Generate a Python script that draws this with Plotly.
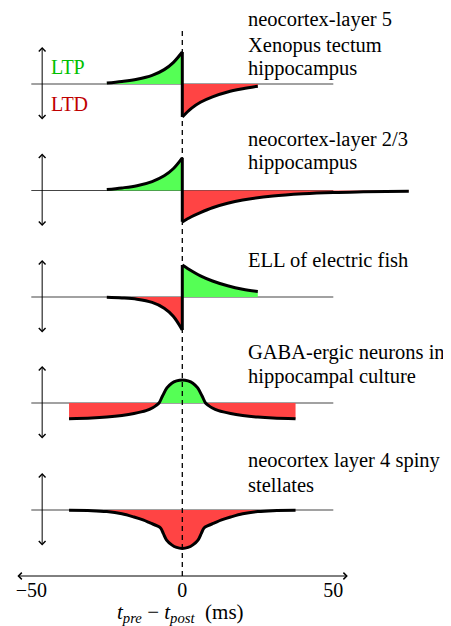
import plotly.graph_objects as go

# ---------------- data (weight change, normalised units) ----------------
# Panel 1: neocortex-layer 5 / Xenopus tectum / hippocampus
p1_pre_t = [-25, -20, -15, -10, -6, -3, 0]
p1_pre_w = [0.03, 0.08, 0.15, 0.27, 0.45, 0.67, 1.0]
p1_post_t = [0, 3, 6, 10, 15, 20, 25]
p1_post_w = [-1.03, -0.76, -0.57, -0.40, -0.25, -0.15, -0.07]

# Panel 2: neocortex-layer 2/3 / hippocampus
p2_pre_t = [-25, -20, -15, -10, -6, -3, 0]
p2_pre_w = [0.03, 0.08, 0.15, 0.28, 0.46, 0.68, 1.02]
p2_post_t = [0, 3, 6, 10, 15, 20, 30, 40, 50, 60, 75]
p2_post_w = [-0.98, -0.82, -0.69, -0.54, -0.40, -0.30, -0.17, -0.10, -0.06, -0.04, -0.02]

# Panel 3: ELL of electric fish
p3_pre_t = [-25, -20, -15, -10, -6, -3, 0]
p3_pre_w = [-0.01, -0.03, -0.07, -0.17, -0.35, -0.60, -1.03]
p3_post_t = [0, 3, 6, 10, 15, 20, 25]
p3_post_w = [1.0, 0.82, 0.66, 0.50, 0.35, 0.24, 0.17]

# Panel 4: GABA-ergic neurons in hippocampal culture
p4_t = [-37.5, -30, -25, -20, -16, -12, -9.8, -8.7, -7.7, -6.6, -5.1, -3.5, -1.9, 0,
        1.9, 3.5, 5.1, 6.6, 7.7, 8.7, 9.8, 12, 16, 20, 25, 30, 37.5]
p4_w = [-0.49, -0.47, -0.44, -0.39, -0.33, -0.24, -0.15, -0.08, 0.0, 0.21, 0.47, 0.62, 0.69, 0.72,
        0.69, 0.62, 0.47, 0.21, 0.0, -0.08, -0.15, -0.24, -0.33, -0.39, -0.44, -0.47, -0.49]

# Panel 5: neocortex layer 4 spiny stellates
p5_t = [-37.5, -30, -25, -20, -16, -13, -10.5, -8.5, -7.2, -6.3, -5.2, -3.5, -1.9, 0,
        1.9, 3.5, 5.2, 6.3, 7.2, 8.5, 10.5, 13, 16, 20, 25, 30, 37.5]
p5_w = [-0.01, -0.02, -0.05, -0.12, -0.22, -0.31, -0.41, -0.49, -0.56, -0.73, -0.94, -1.09, -1.17, -1.20,
        -1.17, -1.09, -0.94, -0.73, -0.56, -0.49, -0.41, -0.31, -0.22, -0.12, -0.05, -0.02, -0.01]

panel_labels = [
    ["neocortex-layer 5", "Xenopus tectum", "hippocampus"],
    ["neocortex-layer 2/3", "hippocampus"],
    ["ELL of electric fish"],
    ["GABA-ergic neurons in", "hippocampal culture"],
    ["neocortex layer 4 spiny", "stellates"],
]
tick_vals = [-50, 0, 50]

# ---------------- layout geometry ----------------
WIN_W, WIN_H = 451, 626
OFF = 8                      # default page margin around the plot div
W, H = WIN_W - OFF, WIN_H - OFF
UNIT = 32.0                  # px per weight unit
HALF = 50.0                  # px half-height of each panel
baselines_px = [84, 190.5, 297, 403, 510]
label_baselines_px = [[27, 52, 76], [146.7, 170], [266.7], [359.3, 383.3], [467.7, 491.7]]
PX_PER_MS = 3.02
ZERO_PX = 182.3
x_range = [(OFF - ZERO_PX) / PX_PER_MS, (WIN_W - ZERO_PX) / PX_PER_MS]

GREEN = "#55FF55"
RED = "#FF4444"
FONT = "Liberation Serif, Times New Roman, serif"
LABEL_SIZE = 20.5


def py(p):
    return 1 - (p - OFF) / H


def px(p):
    return (p - OFF) / W


panels = [
    [(p1_pre_t, p1_pre_w), (p1_post_t, p1_post_w)],
    [(p2_pre_t, p2_pre_w), (p2_post_t, p2_post_w)],
    [(p3_pre_t, p3_pre_w), (p3_post_t, p3_post_w)],
    [(p4_t, p4_w)],
    [(p5_t, p5_w)],
]


def sign_segments(t, w):
    segs = []
    ct, cw = [t[0]], [w[0]]
    for i in range(1, len(t)):
        ct.append(t[i])
        cw.append(w[i])
        if w[i] == 0 and i < len(t) - 1:
            segs.append((ct, cw))
            ct, cw = [t[i]], [w[i]]
    segs.append((ct, cw))
    return segs


fig = go.Figure()
layout = dict(
    width=W, height=H,
    margin=dict(l=0, r=0, t=0, b=0, pad=0),
    template="none",
    paper_bgcolor="white", plot_bgcolor="rgba(0,0,0,0)",
    showlegend=False,
    font=dict(family=FONT, size=20, color="black"),
    xaxis=dict(domain=[0, 1], range=x_range, anchor="free", position=py(576),
               showgrid=False, zeroline=False, showline=False, ticks="",
               tickvals=tick_vals, tickfont=dict(family=FONT, size=20, color="black"),
               automargin=False, fixedrange=True),
)
shapes = []
annotations = []

for i, pieces in enumerate(panels):
    yname = "y" if i == 0 else f"y{i + 1}"
    lname = "yaxis" if i == 0 else f"yaxis{i + 1}"
    b = baselines_px[i]
    layout[lname] = dict(domain=[py(b + HALF), py(b - HALF)],
                         range=[-HALF / UNIT, HALF / UNIT],
                         anchor="x", visible=False, fixedrange=True)
    # baseline
    shapes.append(dict(type="line", xref="x", yref=yname, x0=-50, x1=50, y0=0, y1=0,
                       line=dict(color="#444444", width=1.2), layer="below"))
    # fills
    for (t, w) in pieces:
        for st, sw in sign_segments(t, w):
            col = GREEN if sum(sw) > 0 else RED
            fig.add_trace(go.Scatter(x=st, y=sw, xaxis="x", yaxis=yname, mode="lines",
                                     line=dict(width=0, shape="spline"),
                                     fill="tozeroy", fillcolor=col, hoverinfo="skip"))
    # curves
    for (t, w) in pieces:
        fig.add_trace(go.Scatter(x=t, y=w, xaxis="x", yaxis=yname, mode="lines",
                                 line=dict(color="black", width=3, shape="spline"),
                                 hoverinfo="skip"))
    if len(pieces) == 2:
        fig.add_trace(go.Scatter(x=[pieces[0][0][-1], pieces[1][0][0]],
                                 y=[pieces[0][1][-1], pieces[1][1][0]],
                                 xaxis="x", yaxis=yname, mode="lines",
                                 line=dict(color="black", width=3), hoverinfo="skip"))
    # double arrow
    annotations.append(dict(xref="x", yref=yname, x=-46.4, y=37 / UNIT,
                            axref="x", ayref=yname, ax=-46.4, ay=-37 / UNIT,
                            showarrow=True, arrowside="end+start", arrowhead=4,
                            startarrowhead=4, arrowsize=1.3, startarrowsize=1.3,
                            arrowwidth=1, arrowcolor="black", text=""))
    # labels
    for txt, lb in zip(panel_labels[i], label_baselines_px[i]):
        annotations.append(dict(xref="paper", yref="paper", x=px(246), y=py(lb - 7),
                                xanchor="left", yanchor="middle", showarrow=False,
                                text=txt, font=dict(family=FONT, size=LABEL_SIZE, color="black")))

# LTP / LTD labels
annotations.append(dict(xref="paper", yref="paper", x=px(49), y=py(74 - 7), xanchor="left",
                        yanchor="middle", showarrow=False, text="LTP",
                        font=dict(family=FONT, size=20, color="#00BF00")))
annotations.append(dict(xref="paper", yref="paper", x=px(49), y=py(110.7 - 7), xanchor="left",
                        yanchor="middle", showarrow=False, text="LTD",
                        font=dict(family=FONT, size=20, color="#BF0000")))

# x axis arrow
annotations.append(dict(xref="x", yref="paper", x=54.8, y=py(576),
                        axref="x", ayref="pixel", ax=-55.1, ay=0,
                        showarrow=True, arrowside="end+start", arrowhead=4,
                        startarrowhead=4, arrowsize=1.3, startarrowsize=1.3,
                        arrowwidth=1, arrowcolor="black", text=""))
# axis title
annotations.append(dict(xref="x", yref="paper", x=-0.5, y=py(613), xanchor="center",
                        yanchor="middle", showarrow=False,
                        text="<i>t</i><sub><i>pre</i></sub> \u2212 <i>t</i><sub><i>post</i></sub>  (ms)",
                        font=dict(family=FONT, size=21, color="black")))

# dashed zero line
shapes.append(dict(type="line", xref="x", yref="paper", x0=0, x1=0, y0=py(576), y1=py(28),
                   line=dict(color="black", width=1.3, dash="5px,4px"), layer="above"))

layout["shapes"] = shapes
layout["annotations"] = annotations
fig.update_layout(**layout)
fig.write_html("out.html")
